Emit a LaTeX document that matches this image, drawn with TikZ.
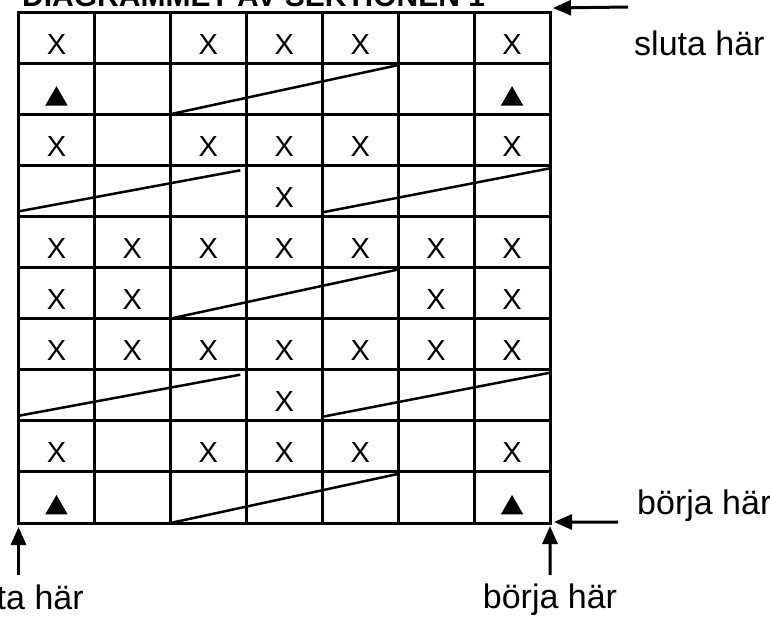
\documentclass[tikz,border=0pt]{standalone}
\usepackage{fontspec}
\setmainfont{Liberation Sans}
\usetikzlibrary{shapes.geometric,arrows.meta,calc}
\begin{document}
\begin{tikzpicture}[x=1pt,y=-1pt,
 cell/.style={draw,line width=3pt,minimum width=75.93pt,minimum height=51.1pt,inner sep=0pt,outer sep=0pt},
 xm/.style={font=\fontsize{29}{29}\selectfont,inner sep=0pt},
 tm/.style={regular polygon,regular polygon sides=3,fill=black,minimum size=26pt,inner sep=0pt},
 diag/.style={line width=2.5pt},
 arr/.style={line width=3pt,-{Triangle[length=18pt,width=15pt]}},
 lbl/.style={font=\fontsize{34}{34}\selectfont,inner sep=0pt}]
\useasboundingbox (0,0) rectangle (770,621);
% title (cut off at the top)
\node[font=\bfseries\fontsize{30}{30}\selectfont,inner sep=0pt,anchor=base west] (title) at (22,6) {DIAGRAMMET AV SEKTIONEN 1};
% grid
\foreach \r in {1,...,10}
 \foreach \c in {1,...,7}
  \node[cell] (c-\r-\c) at ({18.5+75.93*(\c-0.5)},{12+51.1*(\r-0.5)}) {};
% X marks
\foreach \r/\c in {1/1,1/3,1/4,1/5,1/7,
 3/1,3/3,3/4,3/5,3/7,
 4/4,
 5/1,5/2,5/3,5/4,5/5,5/6,5/7,
 6/1,6/2,6/6,6/7,
 7/1,7/2,7/3,7/4,7/5,7/6,7/7,
 8/4,
 9/1,9/3,9/4,9/5,9/7}
  \node[xm] (x-\r-\c) at ([yshift=-6.5pt]c-\r-\c.center) {X};
% triangles
\foreach \r/\c in {2/1,2/7,10/1,10/7}
  \node[tm] (t-\r-\c) at ([yshift=-10.5pt]c-\r-\c.center) {};
% diagonals
\draw[diag] (c-2-3.south west) -- ([yshift=-2pt]c-2-5.north east);
\draw[diag] ([yshift=5pt]c-4-1.south west) -- ($(c-4-3.north east)+(-6,5)$);
\draw[diag] ([yshift=4pt]c-4-5.south west) -- ([yshift=-3pt]c-4-7.north east);
\draw[diag] (c-6-3.south west) -- ([yshift=-2pt]c-6-5.north east);
\draw[diag] ([yshift=5pt]c-8-1.south west) -- ($(c-8-3.north east)+(-6,5)$);
\draw[diag] ([yshift=4pt]c-8-5.south west) -- ([yshift=-3pt]c-8-7.north east);
\draw[diag] (c-10-3.south west) -- ([yshift=-2pt]c-10-5.north east);
% arrows and labels
\coordinate (sa) at (628,7);
\coordinate (bh) at (618,522);
\coordinate (bv) at (550,575);
\coordinate (sv) at (18.5,575);
\draw[arr] (sa) -- ([xshift=3pt,yshift=4pt]c-1-7.north east);
\draw[arr] (bh) -- ([xshift=4pt,yshift=1pt]c-10-7.south east);
\draw[arr] (bv) -- ([yshift=-3pt]c-10-7.south east);
\draw[arr] (sv) -- ([yshift=-4pt]c-10-1.south west);
\node[lbl,anchor=base west] (l1) at (634,55) {sluta här};
\node[lbl,anchor=base west] (l2) at (637,514) {börja här};
\node[lbl,anchor=base] (l3) at (550,608) {börja här};
\node[lbl,anchor=base] (l4) at (18.5,609) {sluta här};
\end{tikzpicture}
\end{document}
